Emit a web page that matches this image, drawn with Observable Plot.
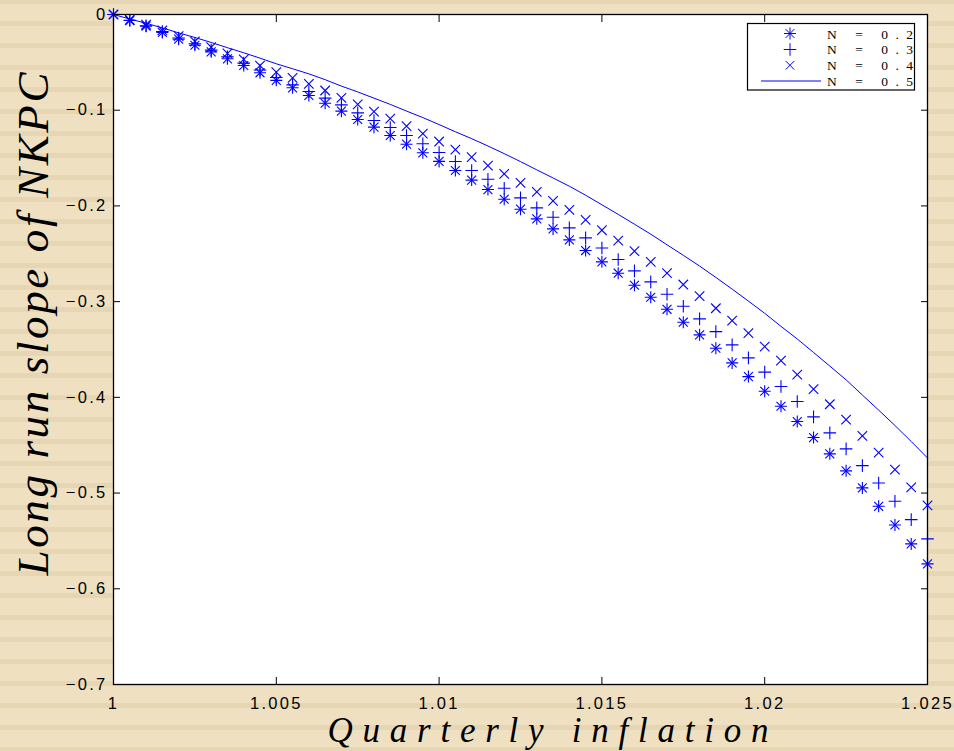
<!DOCTYPE html>
<html><head><meta charset="utf-8">
<script src="https://cdn.jsdelivr.net/npm/d3@7"></script>
<script src="https://cdn.jsdelivr.net/npm/@observablehq/plot@0.6"></script>
<style>
html,body{margin:0;padding:0;}
body{width:954px;height:751px;overflow:hidden;
background: repeating-linear-gradient(to bottom, #e7d6b3 0px, #e7d6b3 4.3px, #efe0c2 4.3px, #efe0c2 20.7px, #e7d6b3 20.7px, #e7d6b3 22px);}
#chart svg{display:block}
</style></head><body><div id="chart"></div>
<script>
// x: quarterly inflation
const xValues = [1, 1.0005, 1.001, 1.0015, 1.002, 1.0025, 1.003, 1.0035, 1.004, 1.0045,
  1.005, 1.0055, 1.006, 1.0065, 1.007, 1.0075, 1.008, 1.0085, 1.009, 1.0095,
  1.01, 1.0105, 1.011, 1.0115, 1.012, 1.0125, 1.013, 1.0135, 1.014, 1.0145,
  1.015, 1.0155, 1.016, 1.0165, 1.017, 1.0175, 1.018, 1.0185, 1.019, 1.0195,
  1.02, 1.0205, 1.021, 1.0215, 1.022, 1.0225, 1.023, 1.0235, 1.024, 1.0245, 1.025];
// N = 0.2 (asterisk)
const n02 = [0, -0.0063, -0.0122, -0.0188, -0.0258, -0.0321, -0.0390, -0.0463, -0.0533, -0.0609,
  -0.0688, -0.0766, -0.0846, -0.0927, -0.1010, -0.1097, -0.1177, -0.1264, -0.1355, -0.1445,
  -0.1535, -0.1630, -0.1730, -0.1829, -0.1930, -0.2034, -0.2135, -0.2240, -0.2355, -0.2466,
  -0.2584, -0.2703, -0.2829, -0.2954, -0.3080, -0.3215, -0.3347, -0.3487, -0.3640, -0.3783,
  -0.3936, -0.4093, -0.4253, -0.4420, -0.4590, -0.4768, -0.4946, -0.5138, -0.5333, -0.5531, -0.5740];
// N = 0.3 (plus)
const n03 = [0, -0.0060, -0.0117, -0.0179, -0.0245, -0.0306, -0.0372, -0.0441, -0.0508, -0.0580,
  -0.0658, -0.0735, -0.0805, -0.0874, -0.0944, -0.1028, -0.1108, -0.1181, -0.1264, -0.1351,
  -0.1442, -0.1536, -0.1630, -0.1721, -0.1815, -0.1916, -0.2020, -0.2118, -0.2229, -0.2334,
  -0.2440, -0.2560, -0.2679, -0.2793, -0.2923, -0.3048, -0.3180, -0.3313, -0.3452, -0.3588,
  -0.3736, -0.3887, -0.4044, -0.4204, -0.4371, -0.4538, -0.4713, -0.4894, -0.5086, -0.5277, -0.5479];
// N = 0.4 (x)
const n04 = [0, -0.0055, -0.0107, -0.0165, -0.0226, -0.0282, -0.0342, -0.0406, -0.0468, -0.0534,
  -0.0603, -0.0662, -0.0724, -0.0794, -0.0870, -0.0940, -0.1014, -0.1087, -0.1167, -0.1244,
  -0.1327, -0.1411, -0.1491, -0.1578, -0.1665, -0.1759, -0.1853, -0.1947, -0.2041, -0.2145,
  -0.2254, -0.2362, -0.2473, -0.2584, -0.2703, -0.2821, -0.2943, -0.3069, -0.3198, -0.3330,
  -0.3469, -0.3616, -0.3762, -0.3915, -0.4072, -0.4232, -0.4403, -0.4577, -0.4755, -0.4940, -0.5128];
// N = 0.5 (solid line)
const n05 = [0, -0.0047, -0.0091, -0.0140, -0.0192, -0.0240, -0.0292, -0.0347, -0.0400, -0.0456,
  -0.0515, -0.0567, -0.0620, -0.0681, -0.0748, -0.0809, -0.0874, -0.0939, -0.1009, -0.1077,
  -0.1150, -0.1225, -0.1297, -0.1374, -0.1454, -0.1537, -0.1623, -0.1708, -0.1794, -0.1888,
  -0.1988, -0.2088, -0.2191, -0.2295, -0.2406, -0.2516, -0.2628, -0.2747, -0.2869, -0.2994,
  -0.3122, -0.3258, -0.3390, -0.3531, -0.3673, -0.3817, -0.3976, -0.4133, -0.4294, -0.4461, -0.4633];

const xTicks = [1, 1.005, 1.01, 1.015, 1.02, 1.025];
const xTickLabels = ["1", "1.005", "1.01", "1.015", "1.02", "1.025"];
const yTicks = [0, -0.1, -0.2, -0.3, -0.4, -0.5, -0.6, -0.7];
const yTickLabels = ["0", "\u22120.1", "\u22120.2", "\u22120.3", "\u22120.4", "\u22120.5", "\u22120.6", "\u22120.7"];
const legendLabels = ["N = 0.2", "N = 0.3", "N = 0.4", "N = 0.5"];
const xTitle = "Quarterly inflation";
const yTitle = "Long run slope of NKPC";

const rows = (ys) => xValues.map((x, i) => ({x, y: ys[i]}));
const BLUE = "#0000ff";
// symbol radius helpers (Plot uses size = PI r^2)
const rPlus = (arm) => Math.sqrt((Math.pow(arm / 0.87559, 2) + 2) / Math.PI);
const rTimes = (arm) => Math.sqrt((Math.pow(arm / 0.62625, 2) + 2) / Math.PI);

const chart = Plot.plot({
  width: 954,
  height: 751,
  marginLeft: 113,
  marginRight: 27,
  marginTop: 14,
  marginBottom: 67,
  style: "background: transparent; overflow: visible; font-family: 'Liberation Sans', Arial, sans-serif; color: #000;",
  x: {domain: [1, 1.025]},
  y: {domain: [-0.7, 0]},
  marks: [
    Plot.frame({fill: "white", stroke: null}),
    Plot.dot(rows(n02), {x: "x", y: "y", symbol: "plus", r: rPlus(6), stroke: BLUE, fill: "none", strokeWidth: 1.1}),
    Plot.dot(rows(n02), {x: "x", y: "y", symbol: "times", r: rTimes(4.5), stroke: BLUE, fill: "none", strokeWidth: 1.1}),
    Plot.dot(rows(n03), {x: "x", y: "y", symbol: "plus", r: rPlus(6.3), stroke: BLUE, fill: "none", strokeWidth: 1.1}),
    Plot.dot(rows(n04), {x: "x", y: "y", symbol: "times", r: rTimes(4.8), stroke: BLUE, fill: "none", strokeWidth: 1.1}),
    Plot.line(rows(n05), {x: "x", y: "y", stroke: BLUE, strokeWidth: 1}),
    Plot.axisX(xTicks, {anchor: "bottom", tickSize: -7, tickPadding: 20, fontSize: 16.5, label: null,
      tickFormat: d => xTickLabels[xTicks.indexOf(d)]}),
    Plot.axisX(xTicks, {anchor: "top", tickSize: -7, label: null, tickFormat: () => ""}),
    Plot.axisY(yTicks, {anchor: "left", tickSize: -7, tickPadding: 13, fontSize: 16.5, label: null,
      tickFormat: d => yTickLabels[yTicks.indexOf(d)]}),
    Plot.axisY(yTicks, {anchor: "right", tickSize: -7, label: null, tickFormat: () => ""}),
    Plot.frame({stroke: "#000", strokeWidth: 1.3}),
    Plot.text([xTitle], {frameAnchor: "bottom-left", textAnchor: "start", lineAnchor: "bottom",
      dx: 214, dy: 57, fontSize: 35, fontStyle: "italic", fontFamily: "'Liberation Serif', serif", fill: "#000"}),
    Plot.text([yTitle], {frameAnchor: "left", textAnchor: "start", lineAnchor: "bottom", rotate: -90,
      dx: -66, dy: 226, fontSize: 45, fontStyle: "italic", fontFamily: "'Liberation Serif', serif", fill: "#000"})
  ]
});
document.getElementById("chart").appendChild(chart);

const svg = d3.select(chart);
svg.selectAll('g[aria-label$="tick label"] text').style("letter-spacing", "2.3px");
svg.selectAll("text").each(function() {
  const t = this.textContent;
  if (t === xTitle) d3.select(this).attr("textLength", 441).attr("lengthAdjust", "spacing");
  if (t === yTitle) d3.select(this).attr("textLength", 503).attr("lengthAdjust", "spacing");
});

// legend
const lg = svg.append("g").attr("class", "legend").attr("text-anchor", "start");
lg.append("rect").attr("x", 747.5).attr("y", 23.5).attr("width", 167).attr("height", 66.5)
  .attr("fill", "white").attr("stroke", "#000").attr("stroke-width", 1.2);
const symSize = (r) => Math.PI * r * r;
const rowY = [33.5, 49.5, 65.3, 81];
const baseY = [38.5, 54.3, 70, 85.7];
const mx = 790;
lg.append("path").attr("transform", `translate(${mx},${rowY[0]})`)
  .attr("d", d3.symbol(d3.symbolPlus, symSize(rPlus(6)))()).attr("fill", "none").attr("stroke", BLUE);
lg.append("path").attr("transform", `translate(${mx},${rowY[0]})`)
  .attr("d", d3.symbol(d3.symbolTimes, symSize(rTimes(4.5)))()).attr("fill", "none").attr("stroke", BLUE);
lg.append("path").attr("transform", `translate(${mx},${rowY[1]})`)
  .attr("d", d3.symbol(d3.symbolPlus, symSize(rPlus(6.3)))()).attr("fill", "none").attr("stroke", BLUE);
lg.append("path").attr("transform", `translate(${mx},${rowY[2]})`)
  .attr("d", d3.symbol(d3.symbolTimes, symSize(rTimes(4.3)))()).attr("fill", "none").attr("stroke", BLUE);
lg.append("line").attr("x1", 761).attr("x2", 821).attr("y1", rowY[3]).attr("y2", rowY[3])
  .attr("stroke", BLUE).attr("stroke-width", 1);
legendLabels.forEach((s, i) => {
  lg.append("text").attr("x", 827).attr("y", baseY[i]).text(s)
    .attr("text-anchor", "start")
    .attr("font-family", "'Liberation Serif', serif").attr("font-size", 13.5).attr("fill", "#000")
    .attr("textLength", 86).attr("lengthAdjust", "spacing");
});
</script>
</body></html>
